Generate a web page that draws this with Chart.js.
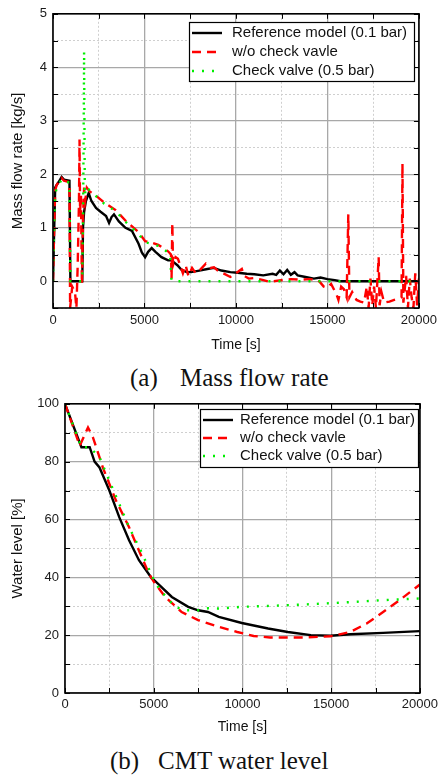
<!DOCTYPE html>
<html>
<head>
<meta charset="utf-8">
<script src="https://cdn.jsdelivr.net/npm/chart.js@4/dist/chart.umd.min.js"></script>
<style>
  html, body { margin: 0; padding: 0; background: #fff; width: 442px; height: 776px; overflow: hidden; }
  .wrap { position: absolute; left: 0; width: 442px; }
  .cap { position: absolute; font-family: "Liberation Serif", "Times New Roman", serif; font-size: 25px; line-height: 30px; height: 30px; color: #111; white-space: pre; }
</style>
</head>
<body>
<div class="wrap" style="top:0;height:360px"><canvas id="c1" width="442" height="360"></canvas></div>
<div class="cap" style="top:363px;left:130px">(a)</div>
<div class="cap" style="top:363px;left:180px">Mass flow rate</div>
<div class="wrap" style="top:390px;height:355px"><canvas id="c2" width="442" height="355"></canvas></div>
<div class="cap" style="top:746px;left:110px">(b)</div>
<div class="cap" style="top:746px;left:158px">CMT water level</div>
<script>
// ---------------- DATA ----------------
const seriesNames = ["Reference model (0.1 bar)", "w/o check vavle", "Check valve (0.5 bar)"];

// (a) Mass flow rate [kg/s] vs time [s]
const flowRefT = [0,60,120,200,300,470,600,900,950,1330,1600,1640,1700,1800,1950,2100,2350,2600,2900,3064,3200,3333,3600,3960,4317,4677,4855,5035,5200,5394,5600,5930,6290,6470,6800,7007,7300,7545,8000,8440,8800,9200,9693,10100,10590,11000,11490,12000,12200,12400,12600,12800,13000,13200,13370,13800,14260,14620,15000,15400,15700,20000];
const flowRefV = [0,0.9,1.75,1.8,1.85,1.95,1.9,1.88,0,0,0,1.0,1.3,1.5,1.65,1.5,1.37,1.3,1.22,1.09,1.2,1.25,1.12,1.0,0.94,0.70,0.54,0.45,0.55,0.62,0.55,0.45,0.39,0.39,0.3,0.22,0.17,0.17,0.2,0.23,0.25,0.2,0.17,0.16,0.14,0.13,0.11,0.14,0.12,0.2,0.13,0.21,0.12,0.17,0.11,0.08,0.05,0.07,0.04,0.02,0,0];

const flowNoValveT = [0,60,120,200,300,470,600,900,935,1050,1200,1280,1350,1420,1450,1480,1530,1580,1640,1700,1760,1850,2000,2350,2800,3424,4000,4677,5035,5400,5752,6290,6450,6480,6522,6560,6700,6830,6950,7100,7250,7400,7600,7800,8000,8350,8600,8800,9000,9300,9693,10000,10320,10450,10700,11000,11500,11840,12470,13000,13500,14000,14500,14800,14980,15200,15500,15600,15750,15900,16050,16140,16200,16350,16590,16800,17000,17150,17250,17350,17450,17550,17650,17800,17850,17950,18100,18390,18650,18920,19050,19100,19150,19300,19400,19500,19600,19700,19800,19900,20000];
const flowNoValveV = [0,0.9,1.7,1.8,1.85,1.93,1.88,1.85,-0.5,-0.1,-0.2,-0.5,0.3,1.5,2.65,1.3,1.6,-0.05,1.2,1.75,1.5,1.75,1.68,1.6,1.47,1.33,1.12,0.92,0.75,0.72,0.68,0.56,0.5,0.05,1.09,0.3,0.45,0.42,0.3,0.15,0.3,0.1,0.25,0.15,0.2,0.33,0.25,0.26,0.2,0.15,0.08,0.15,0.23,0.1,0.05,0.06,0.02,-0.01,0.02,0.04,0.03,0.04,0.02,-0.1,-0.12,-0.05,-0.25,-0.35,-0.1,-0.15,-0.3,1.25,-0.3,-0.2,-0.35,-0.38,-0.4,-0.1,-0.5,0.05,-0.45,-0.1,-0.5,0.45,-0.45,-0.2,-0.4,-0.38,-0.35,-0.32,-0.3,2.2,-0.4,0.1,-0.5,0.05,-0.3,-0.5,0.15,-0.45,0.05];

const flowValveT = [0,60,120,200,300,470,600,900,950,1300,1600,1650,1700,1740,1800,2000,2350,2800,3424,4000,4677,5035,5400,5752,6290,6400,6470,6500,20000];
const flowValveV = [0,1.0,1.6,1.75,1.8,1.9,1.85,1.85,0,0,0,1.5,4.3,1.6,1.77,1.7,1.59,1.45,1.31,1.1,0.88,0.73,0.7,0.66,0.54,0.5,0.05,0,0];

// (b) CMT water level [%] vs time [s]
const levelRefT = [0,925,1390,1667,1944,2500,3056,3611,4167,4907,5000,6020,6944,7500,8056,8667,9963,11444,12556,13852,14963,16074,17926,20000];
const levelRefV = [100,85,85,80,78,70,60.8,52.8,45.9,39.5,39.2,33.2,29.8,28.6,28.0,26.3,24.2,22.3,21.1,20.0,19.8,20.3,20.8,21.4];

const levelNoValveT = [0,833,1296,1574,2130,2870,3611,4167,4722,5000,5648,6574,7500,8667,9704,10630,11556,13407,14963,16074,17000,17926,18852,20000];
const levelNoValveV = [100,85.5,91.8,88.4,78,66.6,57.3,49.3,41.3,38.5,33.2,28.0,25.2,22.9,21.1,19.7,19.2,19.2,19.6,21.1,24.0,28.0,32.1,37.5];

const levelValveT = [0,925,1390,1944,2500,3056,3611,4352,4900,5000,5370,6204,6759,7500,8056,8667,9963,12370,15148,17926,20000];
const levelValveV = [100,85,85,81.5,73.4,65.4,57.3,48.2,40.5,39,35.5,29.8,28.6,28.6,29.3,29.2,29.8,30.3,31.1,32.1,32.7];

// axis tick settings
const timeTicks = { min: 0, max: 20000, step: 2500, labelEvery: 5000 };
const flowTicks = { min: -0.5, max: 5, step: 0.5, labelEvery: 1 };
const levelTicks = { min: 0, max: 100, step: 10, labelEvery: 20 };

// ---------------- BUILD ----------------
const pts = (t, v) => t.map((x, i) => ({ x: x, y: v[i] }));
const isMajor = (v, every) => Math.abs(v / every - Math.round(v / every)) < 1e-6;
const FONT = "'Liberation Sans', Arial, sans-serif";
const styles = [
  { color: '#000000', width: 2.4, dash: [], order: 3 },
  { color: '#ff0000', width: 2.4, dash: [9, 6], order: 2 },
  { color: '#00ee00', width: 2.4, dash: [2, 8], order: 1 }
];

function makeDatasets(list) {
  return list.map((d, i) => ({
    label: seriesNames[i],
    data: d,
    borderColor: styles[i].color,
    backgroundColor: styles[i].color,
    borderWidth: styles[i].width,
    borderDash: styles[i].dash,
    order: styles[i].order,
    pointRadius: 0,
    tension: 0,
    fill: false,
    showLine: true
  }));
}

function axis(t, opts) {
  return {
    type: 'linear',
    min: t.min, max: t.max,
    afterBuildTicks: (s) => {
      const arr = [];
      for (let v = t.min; v <= t.max + 1e-9; v += t.step) arr.push({ value: Math.round(v * 1000) / 1000 });
      s.ticks = arr;
    },
    afterFit: opts.afterFit,
    title: opts.title,
    border: {
      display: false,
      dash: (c) => (c.tick && isMajor(c.tick.value, t.labelEvery)) ? [] : [2, 2]
    },
    grid: {
      drawTicks: false,
      color: (c) => (c.tick && isMajor(c.tick.value, t.labelEvery)) ? '#a8a8a8' : '#cfcfcf',
      lineWidth: (c) => (c.tick && isMajor(c.tick.value, t.labelEvery)) ? 1.3 : 1
    },
    ticks: {
      autoSkip: false, maxRotation: 0, minRotation: 0,
      padding: opts.tickPad,
      color: '#1a1a1a',
      font: { family: FONT, size: 13 },
      callback: (v) => isMajor(v, t.labelEvery) ? String(Math.round(v)) : ''
    }
  };
}

const framePlugin = {
  id: 'frame',
  afterDatasetsDraw(chart) {
    const { ctx, chartArea: a, scales } = chart;
    ctx.save();
    ctx.strokeStyle = '#000';
    ctx.lineWidth = 1;
    ctx.beginPath();
    scales.x.ticks.forEach(tk => {
      const px = Math.round(scales.x.getPixelForValue(tk.value)) + 0.5;
      ctx.moveTo(px, a.bottom); ctx.lineTo(px, a.bottom - 5);
      ctx.moveTo(px, a.top); ctx.lineTo(px, a.top + 5);
    });
    scales.y.ticks.forEach(tk => {
      const py = Math.round(scales.y.getPixelForValue(tk.value)) + 0.5;
      ctx.moveTo(a.left, py); ctx.lineTo(a.left + 5, py);
      ctx.moveTo(a.right, py); ctx.lineTo(a.right - 5, py);
    });
    ctx.stroke();
    ctx.lineWidth = 1.6;
    ctx.strokeRect(a.left, a.top, a.right - a.left, a.bottom - a.top);
    ctx.restore();
  }
};

const boxLegendPlugin = {
  id: 'boxLegend',
  afterDraw(chart, args, o) {
    const { ctx } = chart;
    const b = o.box;
    ctx.save();
    ctx.fillStyle = '#fff';
    ctx.fillRect(b.x, b.y, b.w, b.h);
    ctx.strokeStyle = '#000';
    ctx.lineWidth = 1.2;
    ctx.strokeRect(b.x + 0.5, b.y + 0.5, b.w, b.h);
    chart.data.datasets.forEach((ds, i) => {
      const y = b.y + b.rowTop + i * b.rowGap;
      ctx.beginPath();
      ctx.strokeStyle = ds.borderColor;
      ctx.lineWidth = ds.borderWidth;
      ctx.setLineDash(ds.borderDash);
      ctx.moveTo(b.x + b.sampleX0, y);
      ctx.lineTo(b.x + b.sampleX1, y);
      ctx.stroke();
      ctx.setLineDash([]);
      ctx.fillStyle = '#111';
      ctx.font = '15px ' + FONT;
      ctx.textBaseline = 'middle';
      ctx.textAlign = 'left';
      ctx.fillText(ds.label, b.x + b.textX, y);
    });
    ctx.restore();
  }
};

Chart.defaults.font.family = FONT;

new Chart(document.getElementById('c1'), {
  type: 'scatter',
  data: { datasets: makeDatasets([pts(flowRefT, flowRefV), pts(flowNoValveT, flowNoValveV), pts(flowValveT, flowValveV)]) },
  options: {
    responsive: false, animation: false, devicePixelRatio: 1,
    layout: { padding: { top: 10, right: 18, left: 0, bottom: 0 } },
    plugins: {
      legend: { display: false }, tooltip: { enabled: false },
      boxLegend: { box: { x: 189, y: 22, w: 225, h: 59, rowTop: 11, rowGap: 19, sampleX0: 3, sampleX1: 33, textX: 43 } }
    },
    scales: {
      x: axis(timeTicks, {
        tickPad: 5,
        afterFit: (s) => { s.height = 52; },
        title: { display: true, text: 'Time [s]', color: '#111', font: { family: FONT, size: 14 }, padding: { top: 2, bottom: 6 } }
      }),
      y: axis(flowTicks, {
        tickPad: 6,
        afterFit: (s) => { s.width = 53; },
        title: { display: true, text: 'Mass flow rate [kg/s]', color: '#111', font: { family: FONT, size: 15 }, padding: { top: 9, bottom: 2 } }
      })
    }
  },
  plugins: [framePlugin, boxLegendPlugin]
});

new Chart(document.getElementById('c2'), {
  type: 'scatter',
  data: { datasets: makeDatasets([pts(levelRefT, levelRefV), pts(levelNoValveT, levelNoValveV), pts(levelValveT, levelValveV)]) },
  options: {
    responsive: false, animation: false, devicePixelRatio: 1,
    layout: { padding: { top: 13, right: 18, left: 0, bottom: 0 } },
    plugins: {
      legend: { display: false }, tooltip: { enabled: false },
      boxLegend: { box: { x: 200, y: 19, w: 218, h: 58, rowTop: 11, rowGap: 18, sampleX0: 3, sampleX1: 33, textX: 40 } }
    },
    scales: {
      x: axis(timeTicks, {
        tickPad: 4,
        afterFit: (s) => { s.height = 52; },
        title: { display: true, text: 'Time [s]', color: '#111', font: { family: FONT, size: 14 }, padding: { top: 2, bottom: 9 } }
      }),
      y: axis(levelTicks, {
        tickPad: 6,
        afterFit: (s) => { s.width = 65; },
        title: { display: true, text: 'Water level [%]', color: '#111', font: { family: FONT, size: 15 }, padding: { top: 9, bottom: 2 } }
      })
    }
  },
  plugins: [framePlugin, boxLegendPlugin]
});
</script>
</body>
</html>
